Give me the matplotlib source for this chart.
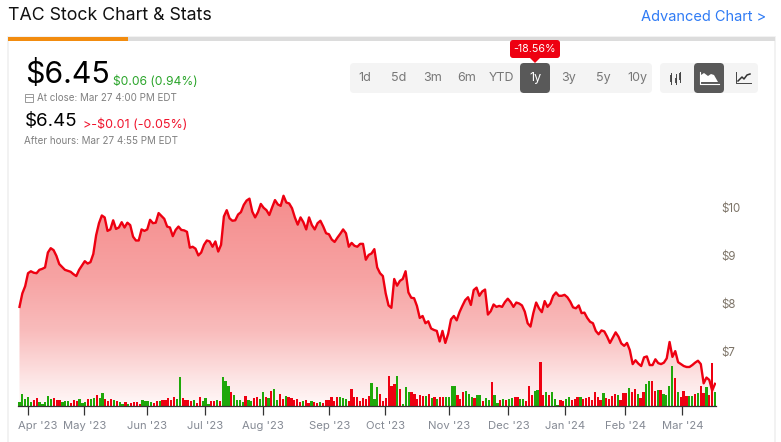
import matplotlib
matplotlib.use("Agg")
import matplotlib.pyplot as plt
import numpy as np
from matplotlib.colors import LinearSegmentedColormap
from matplotlib.patches import FancyBboxPatch, Rectangle, Polygon
from matplotlib.transforms import ScaledTranslation

# Daily closing prices
prices = [
    7.93, 8.21, 8.36, 8.63, 8.67, 8.64, 8.63, 8.70, 8.72, 8.75, 9.06, 9.15, 9.11, 8.99, 8.82, 8.76,
    8.70, 8.68, 8.66, 8.61, 8.57, 8.70, 8.79, 8.88, 8.83, 8.86, 9.03, 9.42, 9.67, 9.83, 9.79, 9.51,
    9.54, 9.73, 9.55, 9.58, 9.69, 9.58, 9.68, 9.63, 9.39, 9.31, 9.31, 9.54, 9.51, 9.54, 9.74, 9.67,
    9.68, 9.88, 9.82, 9.76, 9.60, 9.58, 9.40, 9.53, 9.60, 9.53, 9.52, 9.49, 9.16, 9.18, 9.14, 9.00,
    9.06, 9.22, 9.31, 9.29, 9.18, 9.29, 9.08, 9.22, 9.81, 9.94, 9.77, 9.72, 9.73, 9.85, 9.90, 10.05,
    10.14, 10.18, 9.91, 9.79, 9.90,
    10.07, 9.99, 9.94, 9.84, 10.00, 10.15, 10.06, 10.03, 10.24, 10.10, 10.08, 9.98, 9.79, 9.64, 9.79,
    9.69, 9.54, 9.79, 9.63, 9.54, 9.67, 9.72, 9.60, 9.46, 9.44, 9.33, 9.28, 9.37, 9.45, 9.54, 9.46,
    9.18, 9.26, 9.20, 9.18, 9.24, 9.24, 8.91, 9.01, 9.04, 9.13, 8.75, 8.63, 8.57, 8.21, 7.96, 7.91,
    8.51, 8.37, 8.47, 8.51, 8.67, 8.23, 8.12, 8.11, 7.95, 7.70, 7.74, 7.59, 7.63, 7.48, 7.45, 7.43,
    7.21, 7.43, 7.18, 7.37, 7.67, 7.74, 7.65, 7.82, 7.95, 8.07, 8.13, 7.97, 8.28, 8.33, 8.16, 8.25,
    8.29, 7.77, 7.84, 7.98, 7.93, 7.95, 7.93, 8.03, 8.10, 8.03, 7.93, 8.02,
    8.00, 7.96, 7.83, 7.59, 7.52, 7.80, 8.02, 7.90, 7.82, 8.05, 7.93, 8.00, 8.16, 8.23, 8.16, 8.16,
    8.18, 8.13, 8.04, 7.92, 7.90, 7.96, 7.80, 7.81, 7.70, 7.62, 7.59, 7.43, 7.36, 7.44, 7.42, 7.31,
    7.18, 7.29, 7.40, 7.31, 7.17, 7.12, 7.18, 7.03, 6.74, 6.82, 6.75, 6.70, 6.88, 6.90, 6.72, 6.72,
    6.84, 6.76, 6.74, 6.77, 6.86, 7.20, 6.89, 7.01, 6.78, 6.74, 6.70, 6.68, 6.68, 6.72, 6.77, 6.81,
    6.74, 6.34, 6.46, 6.41, 6.19, 6.33,
]

# Daily volume (arbitrary units), g = up day, r = down day
volumes = [
    13, 37, 22, 28, 14, 18, 24, 13, 6, 12, 31, 22, 24, 19, 19, 12, 15, 15, 11, 18, 15, 21, 9, 12,
    21, 21, 26, 33, 24, 39, 21, 15, 21, 18, 15, 14, 7, 12, 6, 9, 12, 12, 6, 18, 15, 15, 12, 9,
    15, 15, 18, 18, 24, 18, 27, 21, 87, 24, 18, 18, 15, 18, 9, 27, 15, 24, 6, 15, 15, 18, 15, 87,
    75, 60, 42, 33, 18, 18, 12, 30, 18, 15, 24, 27, 21,
    42, 27, 24, 45, 51, 18, 36, 21, 30, 27, 24, 18, 21, 12, 15, 18, 10, 15, 12, 9, 12, 9, 18, 18,
    27, 15, 27, 27, 24, 21, 15, 51, 27, 27, 15, 24, 21, 30, 69, 21, 57, 36, 15, 24, 90, 60, 66, 90,
    51, 6, 57, 42, 42, 36, 21, 33, 30, 30, 36, 24, 27, 21, 27, 27, 27, 27, 60, 60, 33, 21, 42, 45,
    36, 27, 24, 33, 33, 15, 24, 18, 72, 33, 9, 18, 21, 18, 21, 24, 27, 27, 21,
    21, 15, 60, 33, 45, 48, 132, 33, 42, 33, 42, 21, 3, 18, 15, 21, 27, 18, 21, 27, 27, 21, 24, 27,
    18, 42, 27, 18, 39, 24, 21, 30, 36, 33, 18, 39, 39, 54, 42, 51, 36, 24, 42, 66, 75, 75, 45, 48,
    48, 36, 33, 60, 120, 84, 42, 27, 45, 30, 30, 30, 36, 39, 60, 39, 57, 33, 129, 42,
]
directions = (
    "gggggrrgggggrrrgggrrrggg"
    "rggrggrrrgrggrgrrrrggggr"
    "rgrrrrrggrrrrgrrgggrrgrg"
    "ggrggggrggrrg"
    "grgrggrrgrrrrrgrrgrrgrrr"
    "rrrgggrrrrrrrrgggrrrrrrg"
    "rgggrrrrrgrgrgrrggggrrrg"
    "ggrggrggrggrgrggrrg"
    "grrrggrrgrgggrrggrrrgrrr"
    "rrrrgrrrrgrrrgrrgrrggrrg"
    "rggggrgrrrggrgrrgrrg"
)

tick_days = [3.05, 22.5, 44.3, 64.4, 84.5, 107.4, 126.8, 149, 169.4, 189.1, 209.9, 229.7]
tick_labels = ["Apr '23", "May '23", "Jun '23", "Jul '23", "Aug '23", "Sep '23", "Oct '23",
               "Nov '23", "Dec '23", "Jan '24", "Feb '24", "Mar '24"]
price_ticks = [7, 8, 9, 10]
periods = ["1d", "5d", "3m", "6m", "YTD", "1y", "3y", "5y", "10y"]

plt.rcParams['font.family'] = ['Inter', 'DejaVu Sans']
W, H = 781, 442
fig = plt.figure(figsize=(W / 100, H / 100), dpi=100, facecolor='white')

# Page furniture is placed in pixel coordinates on a full-figure axes
ui = fig.add_axes([0, 0, 1, 1])
ui.set_xlim(0, W)
ui.set_ylim(H, 0)
ui.axis('off')

ui.add_patch(Rectangle((8, 37), 767, 410, fc='white', ec='#f0f0f0', lw=1.2))
ui.add_patch(Rectangle((8, 37), 767, 4, fc='#dcdcdc', ec='none'))
ui.add_patch(Rectangle((8, 37), 120, 4, fc='#f28c0f', ec='none'))


def box(x0, y0, x1, y1, color, r=4):
    ui.add_patch(FancyBboxPatch((x0 + r, y0 + r), x1 - x0 - 2 * r, y1 - y0 - 2 * r,
                                boxstyle=f"round,pad={r},rounding_size={r}", fc=color, ec='none'))


ui.text(8, 16, "TAC Stock Chart & Stats", fontsize=12.8, color='#111111', va='center')
ui.text(766, 17, "Advanced Chart >", fontsize=10.5, color='#2f7bf5', va='center', ha='right')
ui.text(25, 75, "$6.45", fontsize=21.8, color='black', va='center')
ui.text(113, 81.5, "$0.06 (0.94%)", fontsize=8.7, color='#2ba52b', va='center')
ui.text(37, 98, "At close: Mar 27 4:00 PM EDT", fontsize=7.1, color='#808080', va='center')
ui.text(25, 122, "$6.45", fontsize=13.5, color='black', va='center')
ui.text(83, 124.5, ">-$0.01 (-0.05%)", fontsize=9.0, color='#f0142d', va='center')
ui.text(24, 141, "After hours: Mar 27 4:55 PM EDT", fontsize=7.1, color='#808080', va='center')

# calendar glyph
ui.add_patch(Rectangle((25, 94), 8, 8, fc='none', ec='#999999', lw=0.7))
ui.plot([25, 33], [96.5, 96.5], color='#999999', lw=0.7)

# period buttons
box(350, 63, 652, 93, '#f4f4f4')
box(520, 63, 550, 93, '#595959')
for i, p in enumerate(periods):
    ui.text(365 + 34 * i, 78, p, fontsize=9, va='center', ha='center',
            color='white' if p == "1y" else '#777777')
box(510, 40, 560, 58, '#ee0011', r=3)
ui.add_patch(Polygon([[529, 57], [541, 57], [535, 63]], fc='#ee0011', ec='none'))
ui.text(535, 49, "-18.56%", fontsize=7.7, color='white', va='center', ha='center')

# chart type buttons
box(660, 63, 758, 93, '#f4f4f4')
box(694, 63, 724, 93, '#595959')
for x, (lo, hi), (b0, b1) in [(671, (73, 84), (75, 82)), (676, (74, 84), (78, 83)), (680, (72, 82), (73, 80))]:
    ui.plot([x, x], [lo, hi], color='#444444', lw=0.7)
    ui.add_patch(Rectangle((x - 1.2, b0), 2.4, b1 - b0, fc='#555555', ec='none'))
ui.add_patch(Polygon([[701, 82], [701, 75], [704, 73], [708, 76], [711, 74], [714, 75], [718, 82]],
                     fc='white', ec='none'))
ui.plot([700, 700, 719], [72, 84, 84], color='white', lw=0.8)
ui.plot([736, 736, 751], [72, 83, 83], color='#444444', lw=0.7)
ui.plot([738, 742, 744, 747, 750], [81, 77, 79, 75, 74], color='#333333', lw=1.1)

# Chart axes: x in trading days, y in dollars
px_left, px_right, px_top, px_base = 18.0, 716.0, 170.0, 406.3
pos = [px_left / W, 1 - px_base / H, (px_right - px_left) / W, (px_base - px_top) / H]
day_px = 2.886
xlim = (-1.5 / day_px, 241 + 1.0 / day_px)
ylim = (10 - (px_base - 207.3) / 48.1, 10 + (207.3 - px_top) / 48.1)

ax_area = fig.add_axes(pos, zorder=1)
ax_vol = fig.add_axes(pos, zorder=2)
ax = fig.add_axes(pos, zorder=3)
for a in (ax_area, ax_vol):
    a.axis('off')
    a.patch.set_alpha(0)
ax.patch.set_alpha(0)

days = np.linspace(0, 241, len(prices))
vol_days = np.linspace(0, 241, len(volumes))

# Red fade under the line
cmap = LinearSegmentedColormap.from_list(
    'fade', [(0.0, '#fff8f8'), (0.12, '#fde6e6'), (0.35, '#f9bcbc'), (0.6, '#f7a3a3'), (1.0, '#f58c8c')])
grad = np.linspace(1, 0, 256).reshape(-1, 1)
im = ax_area.imshow(grad, extent=(0, 241, ylim[0], 10.3), aspect='auto', cmap=cmap, vmin=0, vmax=1)
fill = ax_area.fill_between(days, prices, ylim[0], color='none')
im.set_clip_path(fill.get_paths()[0], transform=ax_area.transData)
ax_area.set_xlim(xlim)
ax_area.set_ylim(ylim)

bar_colours = ['#1fa80a' if d == 'g' else '#ee0011' for d in directions]
ax_vol.bar(vol_days, volumes, width=0.78, color=bar_colours)
ax_vol.set_xlim(xlim)
ax_vol.set_ylim(0, (px_base - px_top) * 3)

ax.plot(days, prices, color='#ee0011', lw=1.7, solid_joinstyle='round')
ax.set_xlim(xlim)
ax.set_ylim(ylim)
for side in ('top', 'left', 'right'):
    ax.spines[side].set_visible(False)
ax.spines['bottom'].set_color('#333333')
ax.spines['bottom'].set_linewidth(0.9)
ax.set_xticks(tick_days)
ax.set_xticklabels(tick_labels)
ax.tick_params(axis='x', length=6.5, width=0.9, color='#333333', labelsize=8.1, labelcolor='#858a94', pad=4)
ax.yaxis.tick_right()
ax.set_yticks(price_ticks)
ax.set_yticklabels([f"${v}" for v in price_ticks])
ax.tick_params(axis='y', length=0, labelsize=8.3, labelcolor='#7d7468', pad=4)
first = ax.get_xticklabels()[0]
first.set_transform(first.get_transform() + ScaledTranslation(9.5 / 100, 0, fig.dpi_scale_trans))

fig.savefig('out.png', dpi=100)
